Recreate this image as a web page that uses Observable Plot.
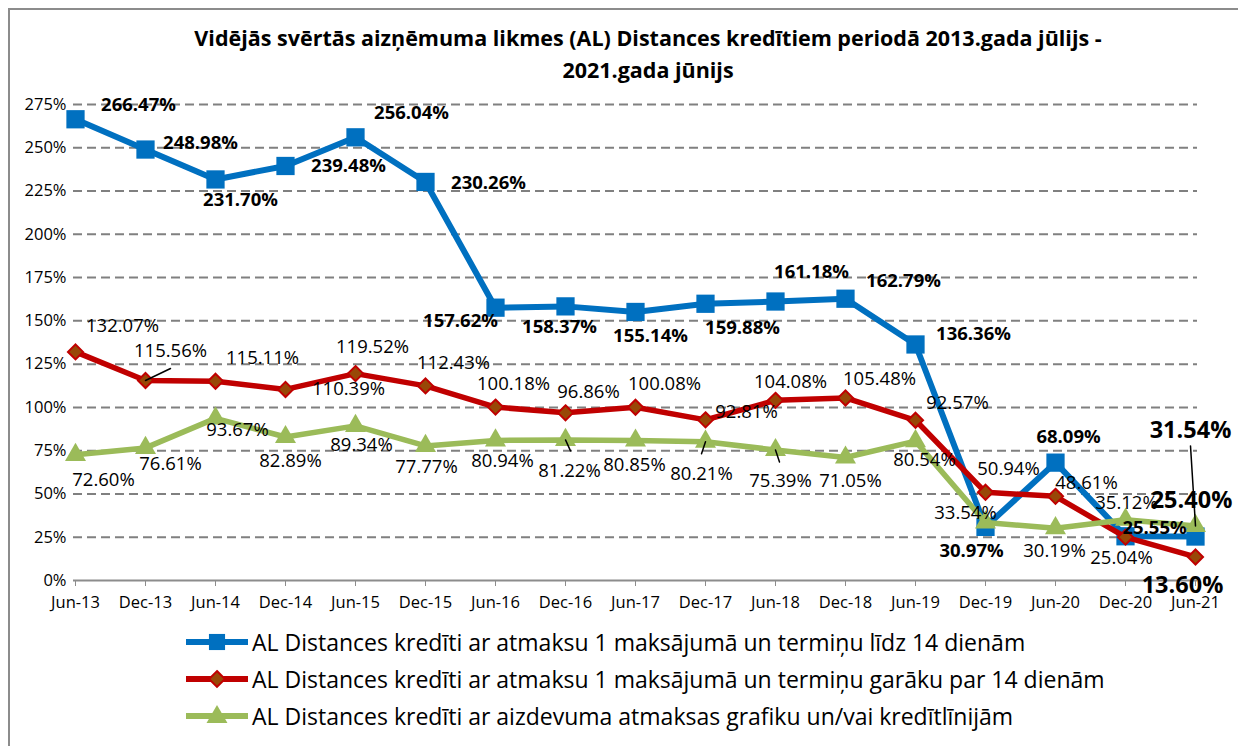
<!DOCTYPE html>
<html><head><meta charset="utf-8">
<script src="https://cdn.jsdelivr.net/npm/d3@7"></script>
<script src="https://cdn.jsdelivr.net/npm/@observablehq/plot@0.6"></script>
<style>
body{margin:0;background:#fff;font-family:"Open Sans",sans-serif;color:#000;}
#wrap{position:relative;width:1238px;height:746px;overflow:hidden;background:#fff;}
#frame{position:absolute;left:8px;top:8px;width:1400px;height:900px;border-left:2px solid #8c8c8c;border-top:2px solid #8c8c8c;}
#title{position:absolute;left:58px;width:1180px;top:22px;text-align:center;font-weight:700;font-size:21.5px;line-height:32px;}
#chart{position:absolute;left:0;top:90px;}
#legend{position:absolute;left:186px;top:623px;}
.row{display:flex;align-items:center;height:37px;font-size:23px;white-space:nowrap;}
.row svg{margin-right:4px;}
</style></head>
<body>
<div id="wrap">
  <div id="frame"></div>
  <div id="title">Vidējās svērtās aizņēmuma likmes (AL) Distances kredītiem periodā 2013.gada jūlijs -<br>2021.gada jūnijs</div>
  <div id="chart"></div>
  <div id="legend"></div>
</div>
<script>
// ---- data ----
const categories = ["Jun-13","Dec-13","Jun-14","Dec-14","Jun-15","Dec-15","Jun-16","Dec-16","Jun-17","Dec-17","Jun-18","Dec-18","Jun-19","Dec-19","Jun-20","Dec-20","Jun-21"];
const seriesNames = [
  "AL Distances kredīti ar atmaksu 1 maksājumā un termiņu līdz 14 dienām",
  "AL Distances kredīti ar atmaksu 1 maksājumā un termiņu garāku par 14 dienām",
  "AL Distances kredīti ar aizdevuma atmaksas grafiku un/vai kredītlīnijām"
];
const shortTerm = [266.47,248.98,231.70,239.48,256.04,230.26,157.62,158.37,155.14,159.88,161.18,162.79,136.36,30.97,68.09,25.55,25.40];
const longTerm  = [132.07,115.56,115.11,110.39,119.52,112.43,100.18,96.86,100.08,92.81,104.08,105.48,92.57,50.94,48.61,25.04,13.60];
const schedule  = [72.60,76.61,93.67,82.89,89.34,77.77,80.94,81.22,80.85,80.21,75.39,71.05,80.54,33.54,30.19,35.12,31.54];
const yTicks = [0,25,50,75,100,125,150,175,200,225,250,275];

// ---- label layout (pixel offsets of each data label from its point) ----
const shortOffsets = [[63,-14],[55,-6],[25,21],[63,0],[56,-24],[63,1],[-35,13],[-6,21],[15,24],[37,24],[36,-29],[58,-18],[58,-10],[-14,24],[13,-26],[29,-8],[-4,-36]];
const longOffsets  = [[47,-26],[25,-29],[47,-23],[63,0],[17,-27],[28,-23],[18,-23],[23,-21],[29,-23],[41,-8],[15,-18],[34,-19],[42,-17],[23,-23],[31,-13],[-4,21],[-13,29]];
const schedOffsets = [[28,25],[25,16],[22,12],[5,24],[6,19],[1,21],[7,21],[4,31],[-1,25],[-4,32],[5,31],[5,24],[9,19],[-20,-9],[-1,23],[1,-17],[-5,-95]];
// leader lines: [series index, category index, dx, dy]
const leaders = [[1,1,25,-12],[2,7,5,11],[2,9,-4,12],[2,10,4,12],[2,16,-5,-80]];

const colors = ["#0070C0","#C00000","#9BBB59"];
const values = [shortTerm, longTerm, schedule];
const offsets = [shortOffsets, longOffsets, schedOffsets];

const rows = values.map((vals, s) => categories.map((c, i) => ({series: s, cat: c, i, value: vals[i]})));

const fmt = v => v.toFixed(2) + "%";

const marks = [
  Plot.gridY(yTicks.filter(d => d > 0), {stroke: "#808080", strokeOpacity: 1, strokeWidth: 2, strokeDasharray: "9,5"}),
  Plot.ruleY([0], {stroke: "#8c8c8c", strokeWidth: 2}),
  Plot.axisY(yTicks, {tickSize: 0, tickPadding: 7, tickFormat: d => d + "%", fontSize: 16.5, label: null}),
  Plot.axisX(categories, {tickSize: 6, stroke: "#8c8c8c", tickPadding: 10, fontSize: 16.5, label: null})
];

// lines
rows.forEach((r, s) => {
  marks.push(Plot.line(r, {x: "cat", y: "value", stroke: colors[s], strokeWidth: s === 0 ? 6 : 5.5, strokeLinejoin: "miter"}));
  if (s === 0) marks.push(Plot.dot(r, {x: "cat", y: "value", symbol: "square", r: 10.3, fill: colors[0], stroke: "none"}));
  if (s === 1) marks.push(Plot.dot(r, {x: "cat", y: "value", symbol: "diamond2", r: 6.8, fill: "#984807", stroke: "#C00000", strokeWidth: 2}));
  if (s === 2) marks.push(Plot.dot(r, {x: "cat", y: "value", symbol: "triangle", r: 7.8, fill: colors[2], stroke: "none"}));
});

// leader lines
leaders.forEach(([s, i, dx, dy]) => {
  marks.push(Plot.vector([rows[s][i]], {
    x: "cat", y: "value", anchor: "start",
    length: Math.hypot(dx, dy), rotate: Math.atan2(dx, -dy) * 180 / Math.PI,
    stroke: "#000", strokeWidth: 1.5,
    shape: {draw(ctx, l) { ctx.moveTo(0, 0); ctx.lineTo(0, -l); }}
  }));
});

// data labels
rows.forEach((r, s) => {
  r.forEach((d, i) => {
    const last = i === categories.length - 1;
    const [dx, dy] = offsets[s][i];
    marks.push(Plot.text([d], {
      x: "cat", y: "value", text: d => fmt(d.value), dx, dy,
      fontSize: last ? 23.5 : 18.5,
      fontWeight: (s === 0 || last) ? "bold" : "normal",
      fill: "#000"
    }));
  });
});

const chart = Plot.plot({
  width: 1238, height: 520,
  marginLeft: 73, marginRight: 41, marginTop: 14, marginBottom: 30,
  x: {type: "point", domain: categories, padding: 0, label: null},
  y: {domain: [0, 275], label: null},
  style: {fontFamily: "Open Sans", fontSize: "16px", color: "#000", background: "transparent", overflow: "visible"},
  marks
});
document.getElementById("chart").appendChild(chart);

// legend
const leg = d3.select("#legend");
seriesNames.forEach((name, s) => {
  const row = leg.append("div").attr("class", "row");
  const svg = row.append("svg").attr("width", 62).attr("height", 24);
  svg.append("line").attr("x1", 0).attr("x2", 62).attr("y1", 12).attr("y2", 12).attr("stroke", colors[s]).attr("stroke-width", 6);
  const sym = s === 0 ? d3.symbol(d3.symbolSquare, 260) : s === 1 ? d3.symbol(d3.symbolDiamond2, 160) : d3.symbol(d3.symbolTriangle, 190);
  svg.append("path").attr("d", sym()).attr("transform", `translate(31,${s === 2 ? 13 : 12})`)
    .attr("fill", s === 1 ? "#984807" : colors[s]).attr("stroke", s === 1 ? "#C00000" : "none").attr("stroke-width", 2);
  row.append("span").text(name);
});
</script>
</body></html>
